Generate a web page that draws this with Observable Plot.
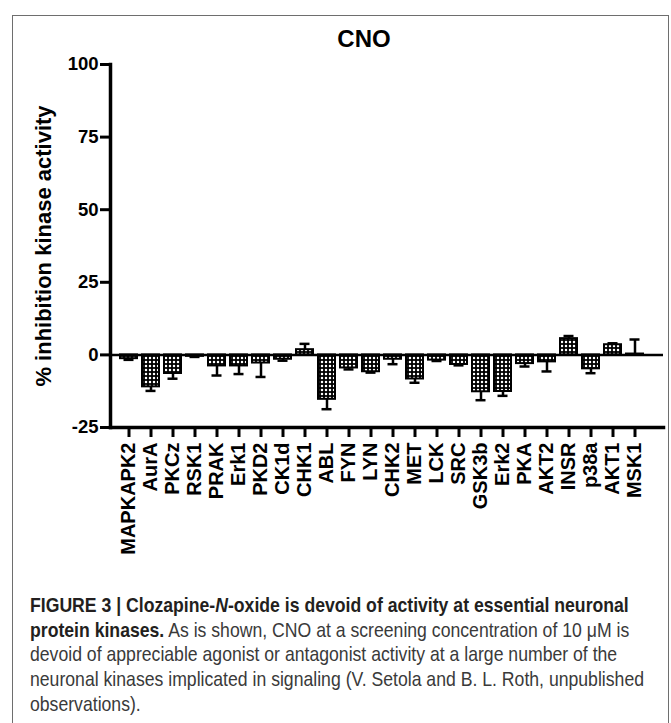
<!DOCTYPE html>
<html><head><meta charset="utf-8">
<script src="https://cdn.jsdelivr.net/npm/d3@7"></script>
<script src="https://cdn.jsdelivr.net/npm/@observablehq/plot@0.6"></script>
<style>
html,body{margin:0;padding:0;background:#fff;}
body{width:671px;height:723px;overflow:hidden;position:relative;font-family:"Liberation Sans",Arial,Helvetica,sans-serif;}
#border{position:absolute;left:12px;top:15px;width:657px;height:800px;border:1px solid #6e6e6e;box-sizing:border-box;}
#chart{position:absolute;left:0;top:0;}
#title{position:absolute;top:25px;left:0;width:728px;text-align:center;font-weight:bold;font-size:24px;color:#000;}
#caption{position:absolute;left:30px;top:593px;font-size:21px;line-height:24.7px;color:#3a3a3a;transform-origin:0 0;white-space:nowrap;}
#caption b{color:#231f20;}
</style>
</head><body>
<div id="border"></div>
<div id="chart"></div>
<div id="title">CNO</div>
<div id="caption">
<div><b>FIGURE 3 | Clozapine-<i>N</i>-oxide is devoid of activity at essential neuronal</b></div>
<div><b>protein kinases.</b> As is shown, CNO at a screening concentration of 10 μM is</div>
<div>devoid of appreciable agonist or antagonist activity at a large number of the</div>
<div id="longest">neuronal kinases implicated in signaling (V. Setola and B. L. Roth, unpublished</div>
<div>observations).</div>
</div>
<script>
const kinases = ["MAPKAPK2","AurA","PKCz","RSK1","PRAK","Erk1","PKD2","CK1d","CHK1","ABL","FYN","LYN","CHK2","MET","LCK","SRC","GSK3b","Erk2","PKA","AKT2","INSR","p38a","AKT1","MSK1"];
const inhibition = [-1.3,-11.0,-6.4,-0.5,-3.8,-3.8,-2.8,-1.5,1.8,-15.3,-4.5,-5.8,-1.5,-8.3,-1.8,-3.3,-12.7,-12.6,-3.0,-2.4,5.6,-4.8,3.5,0.3];
const errors = [0.4,1.4,1.8,0.2,3.3,2.8,4.8,0.5,2.0,3.4,0.5,0.3,1.7,1.3,0.3,0.3,2.9,1.5,1.0,3.3,0.9,1.5,0.5,5.0];
const yTicks = [-25,0,25,50,75,100];
const yLabel = "% inhibition kinase activity";

const data = kinases.map((k,i)=>({
  kinase:k, value:inhibition[i], err:errors[i],
  end: inhibition[i] + (inhibition[i] < 0 ? -1 : 1) * errors[i]
}));

const svg = Plot.plot({
  width:671, height:580,
  marginLeft:110, marginRight:8, marginTop:64, marginBottom:153,
  x:{type:"band", domain:kinases, range:[109.5,653.5], padding:0.25},
  y:{domain:[-25,100]},
  style:{fontFamily:"'Liberation Sans', Arial, sans-serif", fontWeight:"bold", color:"#000", background:"transparent", overflow:"visible"},
  marks:[
    Plot.barY(data, {x:"kinase", y:"value", fill:"url(#checker)", stroke:"#000", strokeWidth:2}),
    Plot.ruleX(data, {x:"kinase", y1:"value", y2:"end", stroke:"#000", strokeWidth:2.5}),
    Plot.tickY(data, {x:"kinase", y:"end", stroke:"#000", strokeWidth:2.5, insetLeft:3.5, insetRight:3.5}),
    Plot.ruleY([0], {stroke:"#000", strokeWidth:2.5}),
    Plot.axisY({ticks:yTicks, tickSize:10, tickPadding:2, strokeWidth:3, fontSize:18.5, tickFormat:d=>String(d), label:null}),
    Plot.axisX({tickSize:10, tickPadding:5, tickRotate:-90, fontSize:20, strokeWidth:3, label:null}),
    Plot.frame({anchor:"left", stroke:"#000", strokeWidth:3.5}),
    Plot.frame({anchor:"bottom", stroke:"#000", strokeWidth:3.5}),
    Plot.text([yLabel], {text:d=>d, frameAnchor:"left", textAnchor:"middle", lineAnchor:"middle", rotate:-90, dx:-67, fontSize:22, fontWeight:"bold"})
  ]
});

const defs = d3.select(svg).insert("defs", ":first-child");
const pat = defs.append("pattern").attr("id","checker").attr("patternUnits","userSpaceOnUse").attr("width",4).attr("height",4);
pat.append("rect").attr("width",4).attr("height",4).attr("fill","#000");
pat.append("circle").attr("cx",2).attr("cy",2).attr("r",1.25).attr("fill","#fff");

document.getElementById("chart").appendChild(svg);

const cap = document.getElementById("caption");
const longest = document.getElementById("longest");
const w = longest.getBoundingClientRect().width;
const s = (644 - 30) / w;
cap.style.transform = `scaleX(${s})`;
</script>
</body></html>
